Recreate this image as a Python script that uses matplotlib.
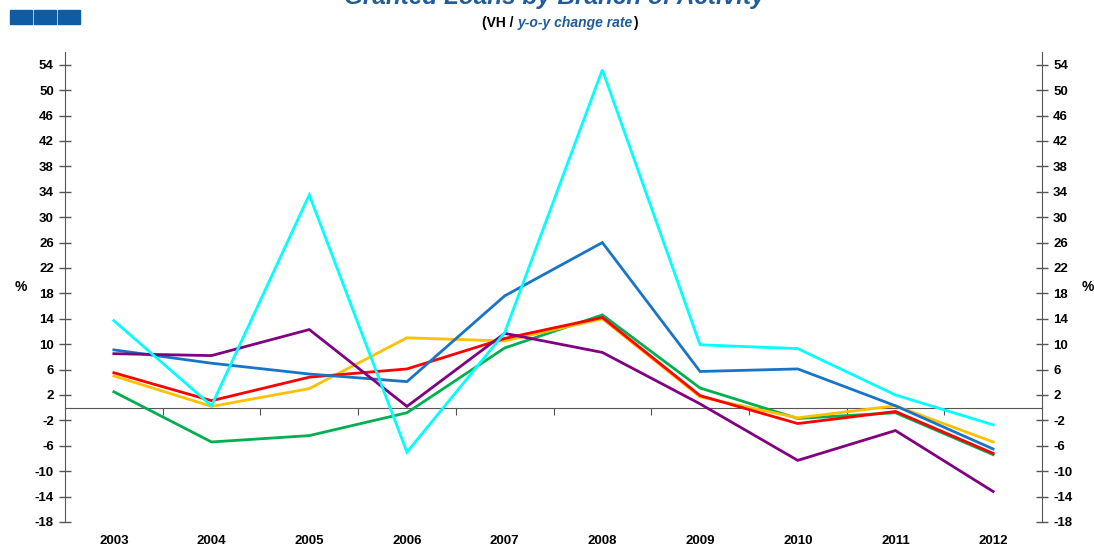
import matplotlib
matplotlib.use("Agg")
import matplotlib.pyplot as plt
from matplotlib.patches import Rectangle

plt.rcParams['font.family'] = ['Liberation Sans', 'DejaVu Sans']

years = ["2003", "2004", "2005", "2006", "2007", "2008", "2009", "2010", "2011", "2012"]

# y-o-y change rate (%) per branch
cyan_vals   = [13.7, 0.3, 33.5, -7.0, 11.8, 53.2, 9.9, 9.3, 2.0, -2.7]
blue_vals   = [9.1, 7.0, 5.3, 4.1, 17.6, 26.0, 5.7, 6.1, 0.3, -6.5]
purple_vals = [8.5, 8.2, 12.3, 0.2, 11.7, 8.7, 0.6, -8.3, -3.6, -13.2]
green_vals  = [2.5, -5.4, -4.4, -0.8, 9.4, 14.6, 3.1, -1.7, -0.8, -7.4]
yellow_vals = [5.0, 0.2, 3.0, 11.0, 10.5, 14.0, 1.7, -1.6, 0.3, -5.4]
red_vals    = [5.5, 1.1, 4.8, 6.1, 10.9, 14.2, 1.9, -2.5, -0.6, -7.2]

yticks = list(range(-18, 55, 4))

series = [
    (green_vals, "#00B050"),
    (yellow_vals, "#FFC000"),
    (red_vals, "#FF0000"),
    (blue_vals, "#1874C8"),
    (purple_vals, "#800080"),
    (cyan_vals, "#00FFFF"),
]

fig = plt.figure(figsize=(10.94, 5.46), dpi=100)
ax = fig.add_axes([65 / 1094, 24 / 546, 977 / 1094, 470 / 546])

x = list(range(len(years)))
for vals, col in series:
    ax.plot(x, vals, color=col, linewidth=2, solid_joinstyle='miter')

ax.set_xlim(-0.5, len(years) - 0.5)
ax.set_ylim(-18, 56)

ax.set_yticks(yticks)
ax.set_yticklabels([str(t) for t in yticks], fontsize=9.5, fontweight='bold')
ax.tick_params(axis='y', direction='inout', length=8, width=1, color='#555555',
               right=True, labelright=True, pad=4)
ax.set_xticks(x)
ax.set_xticklabels(years, fontsize=9.5, fontweight='bold')
ax.tick_params(axis='x', length=0, pad=9)

for side in ['top', 'bottom']:
    ax.spines[side].set_visible(False)
for side in ['left', 'right']:
    ax.spines[side].set_color('#555555')

# zero line with category-boundary ticks
zero_ax = ax.secondary_xaxis(0, transform=ax.transData)
zero_ax.set_xticks([i + 0.5 for i in x[:-1]])
zero_ax.set_xticklabels([])
zero_ax.tick_params(direction='out', length=5, color='#555555')
zero_ax.spines['bottom'].set_color('#555555')

ax.set_ylabel('%', rotation=0, fontsize=10, fontweight='bold', labelpad=10, va='center')
ax2 = ax.secondary_yaxis('right')
ax2.set_yticks([])
ax2.spines['right'].set_visible(False)
ax2.set_ylabel('%', rotation=0, fontsize=10, fontweight='bold', labelpad=33, va='center')

fig.text(0.507, 0.993, "Granted Loans by Branch of Activity", ha='center', va='baseline',
         fontsize=17.5, fontweight='bold', style='italic', color='#1F5C99')

t1 = fig.text(482 / 1094, 1 - 23 / 546, "(VH / ", va='center', fontsize=10,
              fontweight='bold', color='black')
t2 = ax.annotate("y-o-y change rate", xy=(1, 0), xycoords=t1, va='bottom',
                 fontsize=10, fontweight='bold', style='italic', color='#1F5C99')
ax.annotate(")", xy=(1, 0), xycoords=t2, va='bottom', fontsize=10,
            fontweight='bold', color='black')

for i in range(3):
    fig.patches.append(Rectangle(((10 + i * 24) / 1094, 1 - 24 / 546), 22 / 1094, 14 / 546,
                                 transform=fig.transFigure, color='#0F5BA4'))

fig.savefig("out.png", dpi=100)
